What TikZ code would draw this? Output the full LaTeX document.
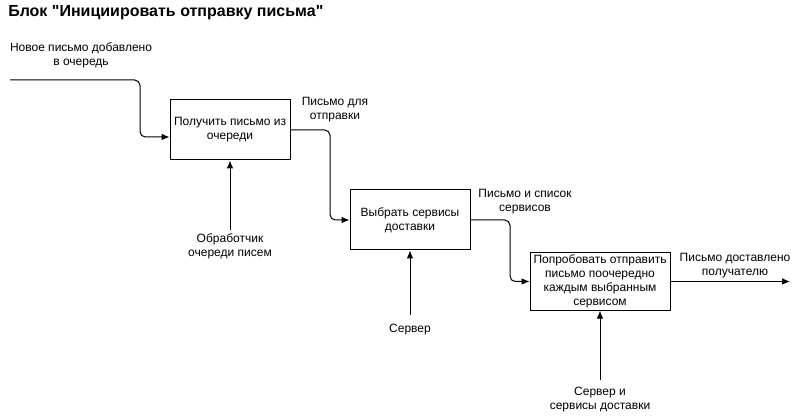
\documentclass[tikz,border=0pt]{standalone}
\usepackage{fontspec}
\setmainfont{Liberation Sans}[Ligatures=TeXOff]
\usetikzlibrary{arrows.meta}
\begin{document}
\begin{tikzpicture}[x=0.75pt,y=-0.75pt,
  font=\fontsize{9}{10.5}\selectfont,
  box/.style={draw, line width=0.75pt, minimum width=90pt, minimum height=45pt, align=center, inner sep=1pt},
  flow/.style={draw, line width=0.75pt, rounded corners=4pt, -{Latex[length=6pt,width=5pt]}},
  lbl/.style={align=center, inner sep=0pt}]
\useasboundingbox (0,0) rectangle (801,416);
\node[anchor=west, font=\fontsize{12}{14}\selectfont\bfseries, inner sep=0pt] (title) at (8,13) {Блок "Инициировать отправку письма"};

\node[box] (b1) at (230,130) {Получить письмо из\\очереди};
\node[box] (b2) at (410,220) {Выбрать сервисы\\доставки};
\node[box, minimum width=105pt, minimum height=43pt] (b3) at (600,281.5) {Попробовать отправить\\письмо поочередно\\каждым выбранным\\сервисом};

\node[lbl] (l0) at (81,55) {Новое письмо добавлено\\в очередь};
\node[lbl] (l1) at (335,110) {Письмо для\\отправки};
\node[lbl] (l2) at (525,202) {Письмо и список\\сервисов};
\node[lbl] (l3) at (735,266) {Письмо доставлено\\получателю};
\node[lbl] (m1) at (230,246) {Обработчик\\очереди писем};
\node[lbl] (m2) at (410,330) {Сервер};
\node[lbl] (m3) at (600,400) {Сервер и\\сервисы доставки};

\coordinate (in) at (10,80);
\coordinate (out) at (790,281.5);
\coordinate (c1) at (230,230);
\coordinate (c2) at (410,315);
\coordinate (c3) at (600,380);

\draw[flow] (in) -- (140,80) |- (b1.west |- 0,137);
\draw[flow] (b1.east) -- (330,130) |- (b2.west);
\draw[flow] (b2.east) -- (510,220) |- (b3.west);
\draw[flow] (b3.east) -- (out);
\draw[flow] (c1) -- (b1.south);
\draw[flow] (c2) -- (b2.south);
\draw[flow] (c3) -- (b3.south);
\end{tikzpicture}
\end{document}
